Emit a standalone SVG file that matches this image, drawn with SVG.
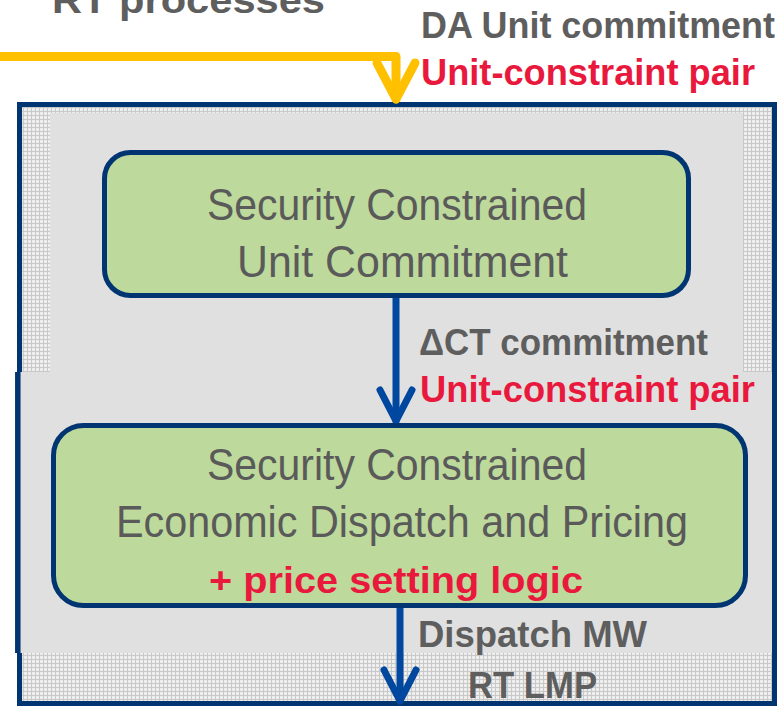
<svg xmlns="http://www.w3.org/2000/svg" width="784" height="706" viewBox="0 0 784 706">
  <style>
    .lbl { font-family: "Liberation Sans", Arial, sans-serif; font-weight: bold; font-size: 37px; }
    .grey { fill: #5e5e5e; }
    .red { fill: #e8193d; }
    .box-text { font-family: "Liberation Sans", Arial, sans-serif; font-size: 44px; fill: #5a5a5a; }
    .node { fill: #bdd99b; stroke: #003572; stroke-width: 5; }
    .wire-blue { fill: none; stroke: #0047a0; stroke-width: 7; stroke-linecap: round; stroke-linejoin: round; }
    .wire-yellow { fill: none; stroke: #ffc000; stroke-width: 9; stroke-linecap: round; stroke-linejoin: round; }
  </style>
  <defs>
    <!-- fine dotted texture of the frame -->
    <pattern id="stipple" width="4" height="4" patternUnits="userSpaceOnUse">
      <rect width="4" height="4" fill="#c9c9c9"/>
      <rect x="0" y="0" width="3" height="3" fill="#ececec"/>
      <rect x="1" y="1" width="1" height="1" fill="#f8f8f8"/>
    </pattern>
  </defs>

  <rect width="784" height="706" fill="#ffffff"/>

  <!-- title, partly outside the top edge -->
  <text class="lbl grey" x="52" y="13" font-size="46" textLength="273" lengthAdjust="spacingAndGlyphs">RT processes</text>

  <!-- outer frame with textured fill -->
  <g id="frame">
    <rect x="19.5" y="104.5" width="755" height="599" fill="url(#stipple)" stroke="#003572" stroke-width="5"/>
    <rect x="50" y="113" width="693" height="259" fill="#e0e0e0"/>
    <rect x="18" y="372" width="757" height="281" fill="#e0e0e0"/>
    <line x1="17.8" y1="372" x2="17.8" y2="653" stroke="#003572" stroke-width="5.5"/>
    <line x1="774.5" y1="372" x2="774.5" y2="653" stroke="#003572" stroke-width="5"/>
  </g>

  <!-- connectors -->
  <g id="connectors">
    <path class="wire-yellow" d="M-5,56.5 H396 V99"/>
    <path class="wire-yellow" d="M377,63 L396,99 L415,63"/>
    <path class="wire-blue" d="M396,298 V421"/>
    <path class="wire-blue" d="M380,390 L396,421 L412,390"/>
    <path class="wire-blue" d="M400,607 V701"/>
    <path class="wire-blue" d="M384,670 L400,701 L416,670"/>
  </g>

  <!-- Security Constrained Unit Commitment -->
  <g id="scuc">
    <rect class="node" x="104.5" y="152.5" width="584" height="143" rx="26"/>
    <text class="box-text" x="207" y="220" textLength="380" lengthAdjust="spacingAndGlyphs">Security Constrained</text>
    <text class="box-text" x="237" y="277" textLength="331" lengthAdjust="spacingAndGlyphs">Unit Commitment</text>
  </g>

  <!-- Security Constrained Economic Dispatch and Pricing -->
  <g id="sced">
    <rect class="node" x="53.5" y="425.5" width="692" height="180" rx="30"/>
    <text class="box-text" x="207" y="480" textLength="380" lengthAdjust="spacingAndGlyphs">Security Constrained</text>
    <text class="box-text" x="116" y="537" textLength="572" lengthAdjust="spacingAndGlyphs">Economic Dispatch and Pricing</text>
    <text class="lbl red" x="209" y="593" font-size="48" textLength="374" lengthAdjust="spacingAndGlyphs">+ price setting logic</text>
  </g>

  <!-- flow labels -->
  <g id="labels">
    <text class="lbl grey" x="421" y="38" textLength="354" lengthAdjust="spacingAndGlyphs">DA Unit commitment</text>
    <text class="lbl red" x="421" y="85" textLength="334" lengthAdjust="spacingAndGlyphs">Unit-constraint pair</text>
    <text class="lbl grey" x="419" y="355" textLength="289" lengthAdjust="spacingAndGlyphs">ΔCT commitment</text>
    <text class="lbl red" x="420" y="402" textLength="335" lengthAdjust="spacingAndGlyphs">Unit-constraint pair</text>
    <text class="lbl grey" x="418" y="647" textLength="229" lengthAdjust="spacingAndGlyphs">Dispatch MW</text>
    <text class="lbl grey" x="468" y="698" textLength="129" lengthAdjust="spacingAndGlyphs">RT LMP</text>
  </g>
</svg>
